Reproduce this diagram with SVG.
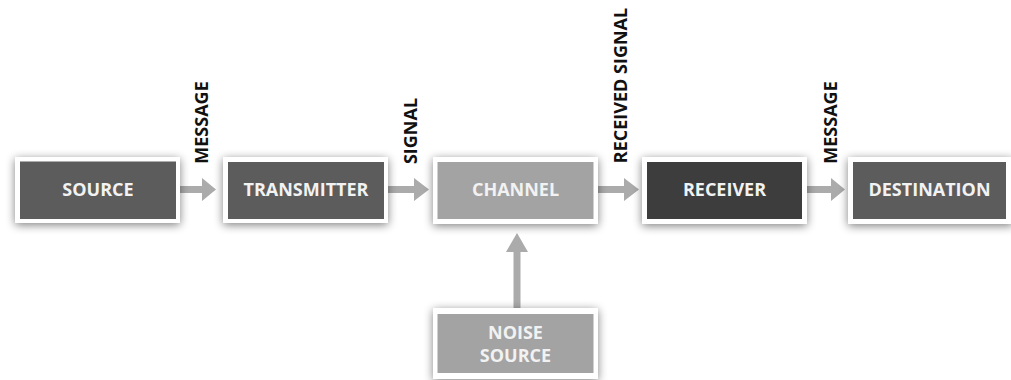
<svg xmlns="http://www.w3.org/2000/svg" width="1011" height="380" viewBox="0 0 1011 380">
  <defs>
    <filter id="sh" x="-20%" y="-40%" width="140%" height="180%">
      <feGaussianBlur in="SourceAlpha" stdDeviation="5"/>
      <feOffset dx="0" dy="2" result="b"/>
      <feComponentTransfer><feFuncA type="linear" slope="0.5"/></feComponentTransfer>
      <feMerge><feMergeNode/><feMergeNode in="SourceGraphic"/></feMerge>
    </filter>
  </defs>
  <style>
    .frame { fill: #ffffff; filter: url(#sh); }
    .dark { fill: #5c5c5c; }
    .darker { fill: #3d3d3d; }
    .light { fill: #a3a3a3; }
    .nt { font-family: "Open Sans", "Liberation Sans", sans-serif; font-weight: 700; font-size: 18px; fill: #f2f2f2; text-anchor: middle; }
    .lb { font-family: "Open Sans", "Liberation Sans", sans-serif; font-weight: 700; font-size: 18px; fill: #111111; text-anchor: middle; }
    .arr { fill: #ababab; }
  </style>
  <rect width="1011" height="380" fill="#ffffff"/>

  <g id="connectors">
    <path class="arr" d="M180,186 H202 V178 L216,189.5 L202,201 V193 H180 Z"/>
    <path class="arr" d="M388,186 H414 V178 L429,189.5 L414,201 V193 H388 Z"/>
    <path class="arr" d="M598,186 H624 V178 L639,189.5 L624,201 V193 H598 Z"/>
    <path class="arr" d="M807,186 H831 V178 L845,189.5 L831,201 V193 H807 Z"/>
    <path class="arr" d="M513.5,308 V252 H506 L517,233 L528,252 H520.5 V308 Z"/>
    <text class="lb" transform="translate(208,122.5) rotate(-90)">MESSAGE</text>
    <text class="lb" transform="translate(417,131) rotate(-90)">SIGNAL</text>
    <text class="lb" transform="translate(627,85.5) rotate(-90)">RECEIVED SIGNAL</text>
    <text class="lb" transform="translate(837,122.5) rotate(-90)">MESSAGE</text>
  </g>

  <g id="source">
    <rect class="frame" x="15" y="157" width="165" height="66"/>
    <rect class="dark" x="20" y="161.5" width="156" height="57.5"/>
    <text class="nt" x="98" y="196">SOURCE</text>
  </g>
  <g id="transmitter">
    <rect class="frame" x="223" y="157" width="165" height="66"/>
    <rect class="dark" x="228" y="162" width="156" height="57"/>
    <text class="nt" x="306" y="196">TRANSMITTER</text>
  </g>
  <g id="channel">
    <rect class="frame" x="433" y="157" width="165" height="67"/>
    <rect class="light" x="437.5" y="162" width="156" height="57"/>
    <text class="nt" x="515.5" y="196">CHANNEL</text>
  </g>
  <g id="receiver">
    <rect class="frame" x="642" y="157" width="165" height="67"/>
    <rect class="darker" x="647" y="162" width="155" height="57"/>
    <text class="nt" x="724.5" y="196">RECEIVER</text>
  </g>
  <g id="destination">
    <rect class="frame" x="848" y="157" width="165" height="67"/>
    <rect class="dark" x="853" y="162" width="153" height="57"/>
    <text class="nt" x="929.5" y="196">DESTINATION</text>
  </g>
  <g id="noise-source">
    <rect class="frame" x="433" y="308" width="165" height="71"/>
    <rect class="light" x="437.5" y="314" width="156" height="59"/>
    <text class="nt" x="515.5" y="338.5">NOISE</text>
    <text class="nt" x="515.5" y="362">SOURCE</text>
  </g>
</svg>
